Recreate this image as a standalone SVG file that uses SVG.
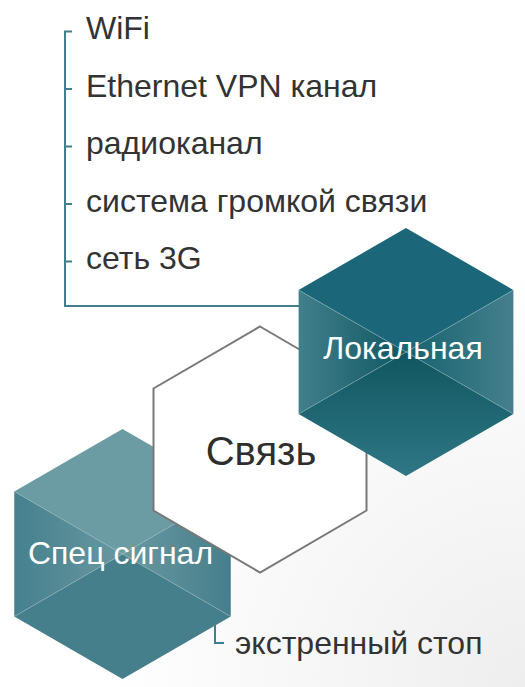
<svg xmlns="http://www.w3.org/2000/svg" width="525" height="687" viewBox="0 0 525 687">
<style>
.lbl{font-family:"Liberation Sans",Arial,sans-serif;font-size:32px;fill:#333333}
.wlbl{font-family:"Liberation Sans",Arial,sans-serif;font-size:32px;fill:#ffffff;text-anchor:middle}
.conn{fill:none;stroke:#3f7f8e;stroke-width:2}
.diag{stroke:#9fc0c7;stroke-opacity:0.55;stroke-width:0.8}
</style>
<defs>
<radialGradient id="bg" gradientUnits="userSpaceOnUse" cx="525" cy="687" r="420">
<stop offset="0" stop-color="#eeeeee"/><stop offset="1" stop-color="#ffffff"/>
</radialGradient>
<linearGradient id="locL" gradientUnits="userSpaceOnUse" x1="298.6" y1="0" x2="406" y2="0"><stop offset="0" stop-color="#417f8c"/><stop offset="1" stop-color="#0f5762"/></linearGradient>
<linearGradient id="locR" gradientUnits="userSpaceOnUse" x1="513.4" y1="0" x2="406" y2="0"><stop offset="0" stop-color="#467f8d"/><stop offset="1" stop-color="#16636e"/></linearGradient>
<linearGradient id="locB" gradientUnits="userSpaceOnUse" x1="0" y1="352" x2="0" y2="476"><stop offset="0" stop-color="#0f5660"/><stop offset="1" stop-color="#2f7785"/></linearGradient>
<linearGradient id="spL" gradientUnits="userSpaceOnUse" x1="14" y1="0" x2="122.5" y2="0"><stop offset="0" stop-color="#46808e"/><stop offset="1" stop-color="#6898a0"/></linearGradient>
<linearGradient id="spR" gradientUnits="userSpaceOnUse" x1="231" y1="0" x2="122.5" y2="0"><stop offset="0" stop-color="#457e8b"/><stop offset="1" stop-color="#6a99a1"/></linearGradient>
</defs>
<rect x="0" y="0" width="525" height="687" fill="url(#bg)"/>
<g id="connectors">
<path class="conn" d="M72,31.5 H65 V306 H300"/>
<path class="conn" d="M65,89 H72 M65,146.5 H72 M65,204 H72 M65,261.5 H72"/>
<path class="conn" d="M215,610 V643 H224"/>
</g>
<g id="spec">
<polygon points="122.5,429 230.75,491.5 122.5,554 14.25,491.5" fill="#6b9ba3"/>
<polygon points="14.25,491.5 122.5,554 14.25,616.5" fill="url(#spL)"/>
<polygon points="230.75,491.5 122.5,554 230.75,616.5" fill="url(#spR)"/>
<polygon points="14.25,616.5 122.5,554 230.75,616.5 122.5,679" fill="#467f8c"/>
<line class="diag" x1="14.25" y1="491.5" x2="230.75" y2="616.5"/>
<line class="diag" x1="230.75" y1="491.5" x2="14.25" y2="616.5"/>
<text class="wlbl" x="120.5" y="563.5">Спец сигнал</text>
</g>
<g id="svyaz">
<polygon points="260,326.5 366.5,388.5 366.5,510.5 260,572.5 153.5,510.5 153.5,388.5" fill="#ffffff" stroke="#787878" stroke-width="2"/>
<text x="261" y="465" font-family="'Liberation Sans',Arial,sans-serif" font-size="40" fill="#2e2e2e" text-anchor="middle">Связь</text>
</g>
<g id="local">
<polygon points="406,228 513.4,290 406,352 298.6,290" fill="#1b6678"/>
<polygon points="298.6,290 406,352 298.6,414" fill="url(#locL)"/>
<polygon points="513.4,290 406,352 513.4,414" fill="url(#locR)"/>
<polygon points="298.6,414 406,352 513.4,414 406,476" fill="url(#locB)"/>
<line class="diag" x1="298.6" y1="290" x2="513.4" y2="414"/>
<line class="diag" x1="513.4" y1="290" x2="298.6" y2="414"/>
<text class="wlbl" x="403" y="358.5">Локальная</text>
</g>
<g id="list">
<text class="lbl" x="86" y="39">WiFi</text>
<text class="lbl" x="86" y="96.5">Ethernet VPN канал</text>
<text class="lbl" x="86" y="154">радиоканал</text>
<text class="lbl" x="86" y="211.5">система громкой связи</text>
<text class="lbl" x="86" y="269">сеть 3G</text>
<text class="lbl" x="235" y="653.5">экстренный стоп</text>
</g>
</svg>
